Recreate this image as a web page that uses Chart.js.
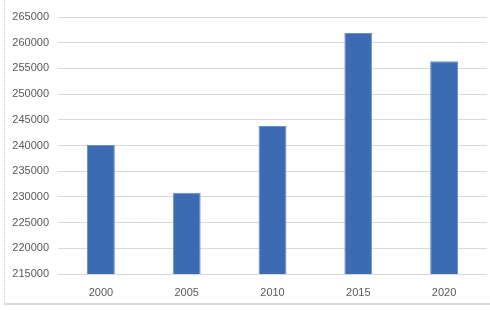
<!DOCTYPE html>
<html>
<head>
<meta charset="utf-8">
<script src="https://cdn.jsdelivr.net/npm/chart.js@4/dist/chart.umd.min.js"></script>
<style>
  html, body { margin: 0; padding: 0; background: #fff; }
  #wrap { position: relative; width: 490px; height: 310px; }
  #frame { position: absolute; left: 4px; top: 0; width: 486px; height: 305px;
           border-left: 1px dotted #c8c8c8; border-bottom: 2px solid #d9d9d9; box-sizing: border-box; pointer-events: none; }
  canvas { position: absolute; left: 0; top: 0; }
</style>
</head>
<body>
<div id="wrap">
  <canvas id="c" width="490" height="310"></canvas>
  <div id="frame"></div>
</div>
<script>
const categories = ['2000', '2005', '2010', '2015', '2020'];
const values = [240100, 230800, 243800, 261900, 256400];
const yMin = 215000;
const yMax = 265000;
const yStep = 5000;

new Chart(document.getElementById('c'), {
  type: 'bar',
  data: {
    labels: categories,
    datasets: [{
      data: values,
      backgroundColor: '#3c6bb4',
      borderColor: '#6a8fcc',
      borderWidth: 1,
      barPercentage: 0.325,
      categoryPercentage: 1
    }]
  },
  options: {
    responsive: false,
    animation: false,
    layout: { padding: { left: 0, right: 3, top: 17, bottom: 0 } },
    plugins: { legend: { display: false }, tooltip: { enabled: false } },
    scales: {
      x: {
        grid: { display: false, drawTicks: false },
        border: { display: false },
        ticks: { color: '#595959', font: { family: 'Liberation Sans', size: 11 }, padding: 12 },
        afterFit: s => { s.height = 36; }
      },
      y: {
        min: yMin, max: yMax,
        grid: { color: '#d9d9d9', lineWidth: 1, drawTicks: false },
        border: { display: false },
        ticks: { stepSize: yStep, color: '#595959', font: { family: 'Liberation Sans', size: 11 }, padding: 9,
                 callback: v => String(v) },
        afterFit: s => { s.width = 58; }
      }
    }
  }
});
</script>
</body>
</html>
